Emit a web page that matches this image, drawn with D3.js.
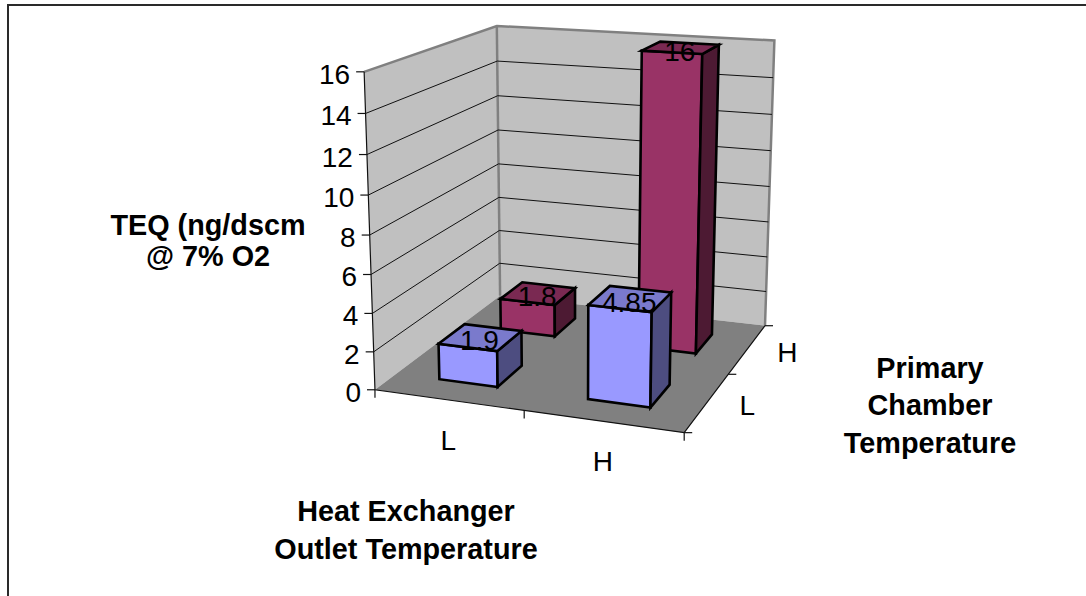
<!DOCTYPE html>
<html>
<head>
<meta charset="utf-8">
<script src="https://cdn.jsdelivr.net/npm/d3@7"></script>
<style>
  html, body { margin: 0; padding: 0; background: #fff; }
  svg { display: block; }
  text { font-family: "Liberation Sans", Arial, sans-serif; fill: #000; }
</style>
</head>
<body>
<svg id="chart" width="1086" height="596"></svg>
<script>
// values
const heatExchanger = ['L', 'H']
const primaryChamber = ['L', 'H']
const lowChamberTeq = [1.9, 4.85]
const highChamberTeq = [1.8, 16]
const valueTicks = [0, 2, 4, 6, 8, 10, 12, 14, 16]

const w = 1086
const h = 596
const svg = d3.select('#chart')

// box corners in unit coordinates -> where they land on the page
const anchors = [
  [[0, 0, 0], [375, 389]],
  [[1, 0, 0], [684.3, 433.3]],
  [[1, 0, 1], [765, 325]],
  [[0, 0, 1], [500, 296.5]],
  [[0, 1, 0], [364, 72]],
  [[0, 1, 1], [497, 25.7]],
  [[1, 1, 1], [774.3, 40.7]]
]

// least squares fit of the camera matrix
function fitCamera(pairs) {
  const rows = []
  pairs.forEach(([[x, y, z], [u, v]]) => {
    rows.push([x, y, z, 1, 0, 0, 0, 0, -u * x, -u * y, -u * z, u])
    rows.push([0, 0, 0, 0, x, y, z, 1, -v * x, -v * y, -v * z, v])
  })
  const n = 11
  const m = d3.range(n).map(i => d3.range(n + 1).map(j =>
    d3.sum(rows, r => r[i] * r[j])))
  for (let i = 0; i < n; i++) {
    let p = i
    for (let k = i + 1; k < n; k++) if (Math.abs(m[k][i]) > Math.abs(m[p][i])) p = k
    const tmp = m[i]; m[i] = m[p]; m[p] = tmp
    for (let k = 0; k < n; k++) {
      if (k === i) continue
      const f = m[k][i] / m[i][i]
      for (let j = i; j <= n; j++) m[k][j] -= f * m[i][j]
    }
  }
  return d3.range(n).map(i => m[i][n] / m[i][i])
}

const c = fitCamera(anchors)
function project(x, y, z) {
  const d = c[8] * x + c[9] * y + c[10] * z + 1
  return [(c[0] * x + c[1] * y + c[2] * z + c[3]) / d,
          (c[4] * x + c[5] * y + c[6] * z + c[7]) / d]
}

const xBand = d3.scaleBand().domain(heatExchanger).range([0, 1]).padding(0.6).paddingOuter(0.3)
const zBand = d3.scaleBand().domain(primaryChamber).range([0, 1]).padding(0.6).paddingOuter(0.3)
const yScale = d3.scaleLinear().domain([0, 16]).range([0, 1])

const line = d3.line()
const poly = pts => line(pts) + 'Z'

// frame
svg.append('path')
  .attr('d', line([[8, h], [8, 5], [w, 5]]))
  .attr('fill', 'none')
  .attr('stroke', '#2a2a2a')
  .attr('stroke-width', 2)

// walls and floor
const walls = svg.append('g')
walls.append('path')
  .attr('d', poly([project(0, 0, 0), project(0, 1, 0), project(0, 1, 1), project(0, 0, 1)]))
  .attr('fill', '#c0c0c0')
walls.append('path')
  .attr('d', poly([project(0, 0, 1), project(0, 1, 1), project(1, 1, 1), project(1, 0, 1)]))
  .attr('fill', '#c0c0c0')
walls.append('path')
  .attr('d', poly([project(0, 0, 0), project(0, 0, 1), project(1, 0, 1), project(1, 0, 0)]))
  .attr('fill', '#808080')
walls.append('path')
  .attr('d', line([project(0, 1, 0), project(0, 1, 1), project(1, 1, 1), project(1, 0, 1)]))
  .attr('fill', 'none').attr('stroke', '#808080').attr('stroke-width', 2.5)
walls.append('path')
  .attr('d', line([project(0, 1, 1), project(0, 0, 1)]))
  .attr('fill', 'none').attr('stroke', '#808080').attr('stroke-width', 2.5)

// gridlines on both walls
svg.append('g').selectAll('path')
  .data(valueTicks.filter(d => d > 0 && d < 16))
  .join('path')
  .attr('d', d => line([project(0, yScale(d), 0), project(0, yScale(d), 1), project(1, yScale(d), 1)]))
  .attr('fill', 'none')
  .attr('stroke', '#111')
  .attr('stroke-width', 1)

// axes
const axes = svg.append('g').attr('fill', 'none').attr('stroke', '#111').attr('stroke-width', 1.2)
axes.append('path').attr('d', line([project(0, 1, 0), project(0, 0, 0), project(1, 0, 0), project(1, 0, 1)]))
valueTicks.forEach(d => {
  const p = project(0, yScale(d), 0)
  axes.append('path').attr('d', line([p, [p[0] - 8, p[1]]]))
})
;[0, 0.5, 1].forEach(t => {
  const p = project(t, 0, 0)
  axes.append('path').attr('d', line([p, [p[0], p[1] + 8]]))
})
;[0, 0.5, 1].forEach(t => {
  const p = project(1, 0, t)
  axes.append('path').attr('d', line([p, [p[0] + 8, p[1]]]))
})

// bars, back row first
const bars = []
primaryChamber.slice().reverse().forEach(zc => {
  const vals = zc === 'L' ? lowChamberTeq : highChamberTeq
  heatExchanger.forEach((xc, i) => bars.push({ xc, zc, value: vals[i] }))
})
const palette = {
  L: { front: '#9999ff', side: '#4d4d80', top: '#7a7acc' },
  H: { front: '#993366', side: '#4d1a33', top: '#7a2952' }
}

const barG = svg.append('g')
  .attr('stroke', '#000')
  .attr('stroke-width', 2.6)
  .attr('stroke-linejoin', 'miter')
bars.forEach(b => {
  const x0 = xBand(b.xc), x1 = x0 + xBand.bandwidth()
  const z0 = zBand(b.zc), z1 = z0 + zBand.bandwidth()
  const y1 = yScale(b.value)
  const col = palette[b.zc]
  barG.append('path').attr('fill', col.front)
    .attr('d', poly([project(x0, 0, z0), project(x0, y1, z0), project(x1, y1, z0), project(x1, 0, z0)]))
  barG.append('path').attr('fill', col.side)
    .attr('d', poly([project(x1, 0, z0), project(x1, y1, z0), project(x1, y1, z1), project(x1, 0, z1)]))
  barG.append('path').attr('fill', col.top)
    .attr('d', poly([project(x0, y1, z0), project(x0, y1, z1), project(x1, y1, z1), project(x1, y1, z0)]))
})

// value labels sit on the bar tops
const labelSize = 28
bars.forEach(b => {
  const xm = xBand(b.xc) + xBand.bandwidth() / 2
  const zm = zBand(b.zc) + zBand.bandwidth() / 2
  const p = project(xm, yScale(b.value), zm)
  svg.append('text')
    .attr('x', p[0] - 1)
    .attr('y', p[1] + 13)
    .attr('text-anchor', 'middle')
    .attr('font-size', labelSize)
    .text(b.value)
})

// tick labels
valueTicks.forEach(d => {
  const p = project(0, yScale(d), 0)
  svg.append('text')
    .attr('x', p[0] - 14)
    .attr('y', p[1] + 12)
    .attr('text-anchor', 'end')
    .attr('font-size', labelSize)
    .text(d)
})
heatExchanger.forEach(d => {
  const p = project(xBand(d) + xBand.bandwidth() / 2, 0, 0)
  svg.append('text')
    .attr('x', p[0])
    .attr('y', p[1] + 50)
    .attr('text-anchor', 'middle')
    .attr('font-size', labelSize)
    .text(d)
})
primaryChamber.forEach(d => {
  const p = project(1, 0, zBand(d) + zBand.bandwidth() / 2)
  svg.append('text')
    .attr('x', p[0] + 40)
    .attr('y', p[1] + 13)
    .attr('text-anchor', 'middle')
    .attr('font-size', labelSize)
    .text(d)
})

// axis titles
function title(lines, cx, ys) {
  lines.forEach((t, i) => {
    svg.append('text')
      .attr('x', cx)
      .attr('y', ys[i])
      .attr('text-anchor', 'middle')
      .attr('font-size', 28.8)
      .attr('font-weight', 'bold')
      .text(t)
  })
}
title(['TEQ (ng/dscm', '@ 7% O2'], 208, [235, 266])
title(['Primary', 'Chamber', 'Temperature'], 930, [378, 415, 453])
title(['Heat Exchanger', 'Outlet Temperature'], 406, [521, 559])
</script>
</body>
</html>
